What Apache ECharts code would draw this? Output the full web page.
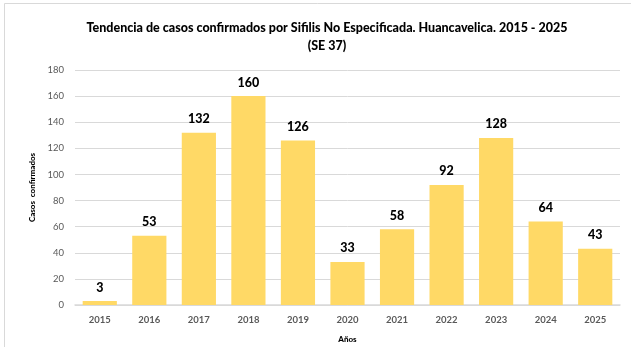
<!DOCTYPE html>
<html>
<head>
<meta charset="utf-8">
<script src="https://cdn.jsdelivr.net/npm/echarts@6/dist/echarts.min.js"></script>
<style>
  html, body { margin: 0; padding: 0; background: #fff; }
  #chart { width: 631px; height: 347px; }
</style>
</head>
<body>
<div id="chart"></div>
<script>
// Casos confirmados de sífilis no especificada por año
const years = ['2015', '2016', '2017', '2018', '2019', '2020', '2021', '2022', '2023', '2024', '2025'];
const casos = [3, 53, 132, 160, 126, 33, 58, 92, 128, 64, 43];
const yTicks = { min: 0, max: 180, interval: 20 };

const FONT = 'Lato, "Open Sans", sans-serif';

const chart = echarts.init(document.getElementById('chart'), null, { renderer: 'canvas' });

chart.setOption({
  backgroundColor: '#ffffff',
  animation: false,
  title: {
    text: 'Tendencia de casos confirmados por Sifilis No Especificada. Huancavelica. 2015 - 2025\n(SE 37)',
    left: 322,
    top: 14,
    textAlign: 'center',
    textStyle: {
      fontFamily: FONT,
      fontSize: 12.5,
      fontWeight: 900,
      color: '#000000',
      lineHeight: 18
    }
  },
  graphic: [
    { type: 'line', shape: { x1: 4.5, y1: 3.5, x2: 631, y2: 3.5 }, style: { stroke: '#d9d9d9', lineWidth: 1 } },
    { type: 'line', shape: { x1: 4.5, y1: 3.5, x2: 4.5, y2: 347 }, style: { stroke: '#d9d9d9', lineWidth: 1 } }
  ],
  grid: { left: 75, right: 11, top: 70, bottom: 42, containLabel: false, outerBoundsMode: 'none' },
  xAxis: {
    type: 'category',
    data: years,
    name: 'Años',
    nameLocation: 'middle',
    nameGap: 30,
    nameTextStyle: { fontFamily: FONT, fontSize: 8, fontWeight: 900, color: '#000000' },
    axisLine: { lineStyle: { color: '#d9d9d9', width: 1.5 } },
    axisTick: { show: false },
    axisLabel: { fontFamily: FONT, fontSize: 9.5, fontWeight: 'bold', color: '#595959', margin: 10 }
  },
  yAxis: {
    type: 'value',
    min: yTicks.min,
    max: yTicks.max,
    interval: yTicks.interval,
    name: 'Casos  confirmados',
    nameLocation: 'middle',
    nameGap: 25,
    nameRotate: 90,
    nameTextStyle: { fontFamily: FONT, fontSize: 8, fontWeight: 900, color: '#000000' },
    axisLine: { show: false },
    axisTick: { show: false },
    axisLabel: { fontFamily: FONT, fontSize: 9.5, color: '#595959', margin: 11 },
    splitLine: { lineStyle: { color: '#d9d9d9', width: 1 } }
  },
  series: [{
    type: 'bar',
    data: casos,
    barCategoryGap: '31%',
    itemStyle: { color: '#FFD966' },
    label: {
      show: true,
      position: 'top',
      distance: 7,
      fontFamily: FONT,
      fontSize: 12.5,
      fontWeight: 900,
      color: '#000000'
    }
  }]
});
</script>
</body>
</html>
